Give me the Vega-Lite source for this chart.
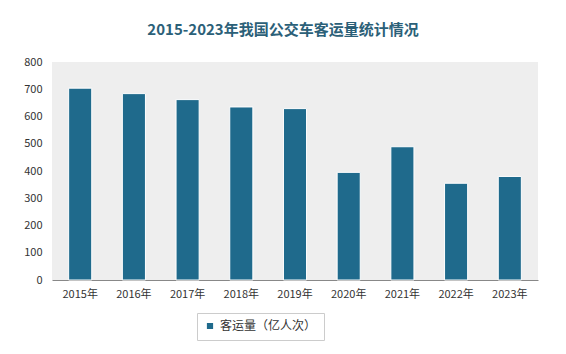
{
  "$schema": "https://vega.github.io/schema/vega-lite/v6.json",
  "autosize": {"type": "none"},
  "width": 486,
  "height": 218,
  "padding": {"left": 52, "top": 62, "right": 28, "bottom": 74},
  "background": "white",
  "title": {
    "text": "2015-2023年我国公交车客运量统计情况",
    "font": "Noto Sans CJK SC",
    "fontSize": 15,
    "fontWeight": "bold",
    "color": "#2b6078",
    "anchor": "middle",
    "dx": -12,
    "offset": 18
  },
  "config": {
    "view": {"fill": "#eeeeee", "stroke": null},
    "axis": {"labelFont": "Noto Sans CJK SC", "labelColor": "#333333", "labelFontSize": 11}
  },
  "data": {
    "values": [
      {"year": "2015年", "series": "客运量（亿人次）", "value": 704},
      {"year": "2016年", "series": "客运量（亿人次）", "value": 684},
      {"year": "2017年", "series": "客运量（亿人次）", "value": 662},
      {"year": "2018年", "series": "客运量（亿人次）", "value": 635},
      {"year": "2019年", "series": "客运量（亿人次）", "value": 629},
      {"year": "2020年", "series": "客运量（亿人次）", "value": 395},
      {"year": "2021年", "series": "客运量（亿人次）", "value": 489},
      {"year": "2022年", "series": "客运量（亿人次）", "value": 355},
      {"year": "2023年", "series": "客运量（亿人次）", "value": 380}
    ]
  },
  "mark": {"type": "bar", "stroke": "white", "strokeWidth": 1},
  "encoding": {
    "x": {
      "field": "year", "type": "nominal", "title": null,
      "scale": {"paddingInner": 0.57, "paddingOuter": 0.31},
      "axis": {"labelAngle": 0, "ticks": false, "domainColor": "#888888", "labelPadding": 8}
    },
    "y": {
      "field": "value", "type": "quantitative", "title": null,
      "scale": {"domain": [0, 800]},
      "axis": {"values": [0,100,200,300,400,500,600,700,800], "labelOverlap": false, "grid": false, "domain": false, "ticks": false, "labelPadding": 10}
    },
    "color": {
      "field": "series", "type": "nominal", "title": null,
      "scale": {"range": ["#1f6a8c"]},
      "legend": {
        "orient": "none", "legendX": 145, "legendY": 251,
        "symbolType": "square", "symbolSize": 60,
        "labelFont": "Noto Sans CJK SC", "labelFontSize": 12, "labelColor": "#333333",
        "strokeColor": "#cccccc", "padding": 7
      }
    }
  }
}
